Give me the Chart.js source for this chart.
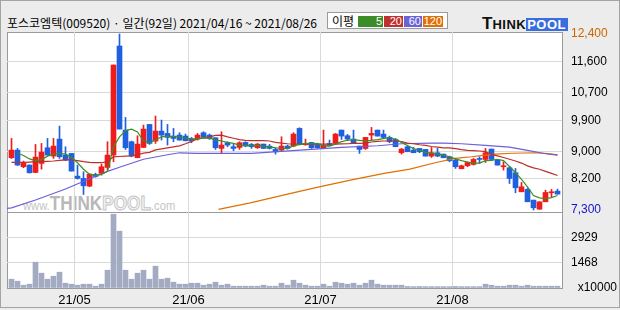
<!DOCTYPE html>
<html>
<head>
<meta charset="utf-8">
<script src="https://cdn.jsdelivr.net/npm/chart.js@4.4.1/dist/chart.umd.min.js"></script>
<style>
body { margin: 0; background: #fff; }
#wrap { position: relative; width: 620px; height: 310px; background: #ececec; overflow: hidden; font-family: "Liberation Sans", sans-serif; }
#outer { position: absolute; left: 0; top: 0; width: 620px; height: 308px; box-sizing: border-box; border: 1px solid #a4a4a4; }
#title { position: absolute; left: 7px; top: 15px; font: 12px/15px "Noto Sans CJK KR", sans-serif; color: #000; white-space: nowrap; }
#legend { position: absolute; left: 327px; top: 12px; width: 121px; height: 17px; box-sizing: border-box; background: #fff; border: 1px solid #9a9a9a; }
#legend span { position: absolute; top: 3px; height: 11px; font: 11px/11px "Liberation Sans", sans-serif; color: #fff; text-align: right; box-sizing: border-box; padding-right: 1px; }
#legend .lbl { left: 4px; top: 1px; height: 14px; font: 12px/14px "Noto Sans CJK KR", sans-serif; color: #000; }
#logo { position: absolute; left: 482px; top: 14px; height: 16px; white-space: nowrap; font-family: "Liberation Sans", sans-serif; font-weight: bold; }
#plotbg { position: absolute; left: 7px; top: 32px; width: 556px; height: 257px; box-sizing: border-box; background: #fff; border: 1px solid #9a9a9a; }
#sep { position: absolute; left: 7px; top: 212px; width: 556px; height: 1px; background: #9a9a9a; }
#mark { position: absolute; left: 23px; top: 192px; white-space: nowrap; color: #c4c4c4; font-family: "Liberation Sans", sans-serif; transform-origin: left top; transform: scaleX(0.86); }
canvas { position: absolute; left: 0; top: 0; }
</style>
</head>
<body>
<div id="wrap">
  <div id="outer"></div>
  <div id="title">포스코엠텍(009520) · 일간(92일) 2021/04/16 ~ 2021/08/26</div>
  <div id="legend">
    <span class="lbl">이평</span>
    <span style="left:30px;width:25px;background:#3c8c28">5</span>
    <span style="left:56px;width:19px;background:#c0302c">20</span>
    <span style="left:76px;width:18px;background:#6b62d8">60</span>
    <span style="left:95px;width:20px;background:#de7008">120</span>
  </div>
  <div id="logo"><span style="font-size:17px;color:#111">T</span><span style="font-size:13px;color:#111;letter-spacing:0.5px">HINK</span><span style="display:inline-block;font-size:13px;line-height:13px;color:#fff;background:#3a6ee0;padding:0 2px 0 1px;letter-spacing:0.5px">POOL</span></div>
  <div id="plotbg"></div>
  <div id="sep"></div>
  <div id="mark"><span style="font-size:13px">www.</span><span style="font-size:20px;font-weight:bold;color:#b8b8b8">THINK</span><span style="font-size:20px;font-weight:bold;color:#f4f4f4;-webkit-text-stroke:1px #c4c4c4">POOL</span><span style="font-size:13px">.com</span></div>
  <canvas id="priceChart" width="620" height="310"></canvas>
  <canvas id="volChart" width="620" height="310"></canvas>
</div>
<script>
// month boundaries on the day axis (between trading days)
const monthTicks = [10.5, 29.5, 51.5, 73.5];
const monthLabels = ['21/05', '21/06', '21/07', '21/08'];

const priceTicks = [12400, 11600, 10700, 9900, 9000, 8200, 7300];
const volTicks = [0, 1468, 2929];

// daily candles, 2021/04/16 ~ 2021/08/26 (92 days)
const opens = [8814, 9036, 8553, 8601, 8388, 8650, 9104, 8862, 9355, 8891,
  8939, 8282, 8214, 7992, 8330, 8359, 8533, 8891, 12052, 9616,
  9278, 8814, 9113, 9780, 9297, 9587, 9519, 9442, 9471, 9442,
  9365, 9355, 9539, 9471, 9394, 9084, 9249, 9133, 9113, 9258,
  9200, 9104, 9210, 9152, 9055, 9036, 9152, 9152, 9664, 9190,
  9258, 9200, 9084, 9229, 9229, 9616, 9452, 9355, 9152, 9084,
  9471, 9616, 9500, 9403, 9345, 8959, 9133, 9036, 9084, 9055,
  8862, 8959, 8920, 8843, 8746, 8495, 8582, 8620, 8794, 8765,
  9065, 8746, 8553, 8524, 8379, 7828, 7896, 7586, 7325, 7538,
  7799, 7847];
const highs = [9374, 9084, 8717, 8610, 9200, 9229, 9374, 9374, 9732, 9133,
  8939, 8601, 8408, 8340, 8370, 8630, 9278, 11501, 12400, 9983,
  9297, 9452, 9761, 9780, 10022, 9906, 9780, 9664, 9539, 9500,
  9403, 9519, 9568, 9500, 9394, 9568, 9278, 9200, 9278, 9278,
  9229, 9229, 9210, 9200, 9104, 9423, 9181, 9539, 9683, 9355,
  9260, 9229, 9616, 9326, 9519, 9616, 9490, 9616, 9152, 9403,
  9693, 9616, 9616, 9442, 9374, 9084, 9162, 9113, 9084, 9055,
  9113, 9084, 8920, 8862, 8794, 8601, 8698, 8794, 8843, 9084,
  9065, 8765, 8698, 8553, 8504, 8098, 7925, 7586, 7538, 7876,
  7896, 7905];
const lows = [8794, 8590, 8524, 8370, 8379, 8485, 8891, 8794, 8794, 8727,
  8427, 8195, 7750, 7973, 8250, 8311, 8456, 8698, 9645, 9055,
  8842, 8814, 9113, 9200, 9229, 9326, 9181, 9278, 9326, 9300,
  9249, 9326, 9394, 9345, 9055, 8939, 9133, 9017, 9055, 9133,
  9084, 9084, 9084, 9065, 8920, 9007, 9065, 9133, 9181, 9175,
  9084, 9084, 9084, 9162, 9200, 9345, 9326, 9229, 8939, 9055,
  9326, 9442, 9374, 9249, 9133, 8920, 8988, 8959, 8959, 8862,
  8823, 8843, 8814, 8698, 8504, 8495, 8553, 8601, 8649, 8678,
  8746, 8601, 8456, 8069, 7799, 7828, 7538, 7300, 7315, 7538,
  7683, 7760];
const closes = [9036, 8601, 8659, 8379, 8833, 8978, 8891, 9152, 8843, 8746,
  8427, 8214, 8002, 8340, 8270, 8553, 8891, 11501, 9645, 9104,
  8862, 9210, 9645, 9229, 9587, 9471, 9403, 9374, 9326, 9307,
  9307, 9471, 9413, 9374, 9104, 9181, 9181, 9084, 9249, 9152,
  9133, 9210, 9084, 9084, 8988, 9152, 9084, 9500, 9200, 9220,
  9104, 9104, 9181, 9162, 9500, 9442, 9355, 9249, 9055, 9403,
  9519, 9442, 9403, 9278, 9133, 9065, 8988, 8959, 8988, 8862,
  8959, 8862, 8814, 8727, 8553, 8582, 8678, 8765, 8765, 8959,
  8765, 8601, 8582, 8214, 7944, 7973, 7538, 7364, 7538, 7808,
  7828, 7760];

// volume, x10000 shares
const volumes = [514, 397, 164, 222, 1508, 865, 514, 690, 923, 280,
  222, 164, 222, 222, 105, 222, 1040, 4313, 3320, 1040,
  514, 865, 1040, 514, 1274, 514, 573, 339, 222, 222,
  280, 280, 164, 222, 339, 164, 222, 105, 105, 105,
  105, 105, 164, 105, 105, 280, 164, 456, 280, 164,
  105, 105, 222, 105, 339, 280, 222, 280, 164, 280,
  456, 222, 164, 164, 164, 164, 90, 80, 90, 80,
  80, 80, 80, 80, 90, 80, 80, 80, 80, 222,
  164, 105, 105, 164, 164, 105, 164, 105, 105, 105,
  105, 105];

// moving averages
const ma5 = [null, 8950, 8880, 8780, 8730, 8760, 8860, 8920, 8940, 8920,
  8820, 8670, 8480, 8340, 8300, 8330, 8420, 9130, 9420, 9600,
  9640, 9560, 9300, 9260, 9330, 9420, 9440, 9430, 9410, 9380,
  9360, 9370, 9390, 9380, 9330, 9300, 9260, 9230, 9180, 9170,
  9160, 9170, 9150, 9130, 9100, 9090, 9080, 9160, 9200, 9230,
  9220, 9230, 9160, 9150, 9210, 9280, 9320, 9340, 9320, 9300,
  9320, 9340, 9370, 9400, 9350, 9260, 9170, 9080, 9030, 8970,
  8950, 8920, 8890, 8840, 8780, 8730, 8690, 8660, 8660, 8730,
  8740, 8770, 8730, 8560, 8380, 8190, 7970, 7720, 7650, 7630,
  7660, 7720];
const ma20 = [8680, 8680, 8680, 8690, 8700, 8700, 8710, 8720, 8740, 8750,
  8750, 8730, 8700, 8680, 8670, 8670, 8700, 8840, 8850, 8860,
  8870, 8900, 8950, 8970, 9040, 9070, 9100, 9130, 9160, 9220,
  9290, 9360, 9390, 9420, 9460, 9470, 9420, 9380, 9340, 9320,
  9310, 9310, 9310, 9300, 9260, 9240, 9220, 9210, 9210, 9210,
  9210, 9210, 9210, 9210, 9210, 9215, 9220, 9230, 9230, 9240,
  9270, 9290, 9300, 9300, 9300, 9280, 9240, 9220, 9190, 9170,
  9140, 9120, 9100, 9100, 9080, 9050, 9030, 9020, 9010, 8990,
  8910, 8870, 8820, 8770, 8720, 8660, 8580, 8520, 8480, 8420,
  8360, 8300];
const ma60Day = [-0.75, 0, 4, 9, 14, 16, 18, 22, 26, 28, 31, 40, 45, 50, 55, 61, 65, 70, 72, 75, 79, 83, 86, 89, 91];
const ma60Val = [7345, 7360, 7590, 7910, 8280, 8420, 8540, 8770, 8900, 8958, 8940, 8940, 9000, 9056, 9114, 9162, 9220, 9240, 9240, 9220, 9170, 9120, 9030, 8930, 8891];
const ma120Day = [34.5, 39.8, 45.3, 50.9, 56.5, 62.1, 66.4, 70.6, 73.9, 76.7, 78.9, 80.6, 83.4, 87.3, 89.5, 91];
const ma120Val = [7316, 7508, 7731, 7954, 8166, 8360, 8485, 8669, 8795, 8843, 8891, 8920, 8945, 8959, 8935, 8895];

const UP = '#f01c1c', DOWN = '#1f5fe0';
const GRID = '#d9d9d9';
const AXIS_FONT = { family: 'Liberation Sans', size: 12 };

const days = opens.map((_, i) => i);
const candleColor = days.map(i => closes[i] >= opens[i] ? UP : DOWN);
const xy = (xs, ys) => xs.map((x, k) => ({ x: x, y: ys[k] }));

const maLine = (data, color) => ({
  type: 'line', data: data, borderColor: color, borderWidth: 1.2,
  pointRadius: 0, tension: 0, spanGaps: false
});

const xScale = (showLabels) => ({
  type: 'linear', min: -0.75, max: 91.75, offset: false,
  afterBuildTicks: s => { s.ticks = monthTicks.map(v => ({ value: v })); },
  ticks: {
    display: showLabels, padding: 5, color: '#000',
    font: { family: 'Liberation Sans', size: 13 },
    callback: (v, i) => monthLabels[i]
  },
  grid: { color: GRID, drawTicks: false, offset: false },
  border: { display: false },
  afterFit: s => { s.height = showLabels ? 22 : 0; }
});

new Chart(document.getElementById('priceChart'), {
  type: 'bar',
  data: {
    datasets: [
      maLine(xy(days, ma5), '#3d8f23'),
      maLine(xy(days, ma20), '#bd2f2a'),
      maLine(xy(ma60Day, ma60Val), '#6a5fdc'),
      maLine(xy(ma120Day, ma120Val), '#e07000'),
      {
        data: days.map(i => ({ x: i, y: [opens[i], closes[i]] })),
        backgroundColor: candleColor, barThickness: 5, minBarLength: 1,
        grouped: false, borderWidth: 0
      },
      {
        data: days.map(i => ({ x: i, y: [lows[i], highs[i]] })),
        backgroundColor: candleColor, barThickness: 1, minBarLength: 1,
        grouped: false, borderWidth: 0
      }
    ]
  },
  options: {
    responsive: false, animation: false, events: [],
    layout: { padding: { left: 7, top: 32, right: 0, bottom: 98 } },
    plugins: { legend: { display: false }, tooltip: { enabled: false } },
    scales: {
      x: xScale(false),
      y: {
        position: 'right', min: 7242, max: 12458,
        afterBuildTicks: s => { s.ticks = priceTicks.map(v => ({ value: v })); },
        ticks: {
          padding: 9, font: AXIS_FONT,
          color: c => c.tick.value === 12400 ? '#cc6600' : (c.tick.value === 7300 ? '#1414c8' : '#000'),
          callback: v => v.toLocaleString('en-US')
        },
        grid: {
          drawTicks: false,
          color: c => (c.tick.value === 12400 || c.tick.value === 7300) ? 'rgba(0,0,0,0)' : GRID
        },
        border: { display: false },
        afterFit: s => { s.width = 58; }
      }
    }
  }
});

new Chart(document.getElementById('volChart'), {
  type: 'bar',
  data: {
    datasets: [{
      data: days.map(i => ({ x: i, y: volumes[i] })),
      backgroundColor: '#a3abc3', barThickness: 5, borderWidth: 0
    }]
  },
  options: {
    responsive: false, animation: false, events: [],
    layout: { padding: { left: 7, top: 212, right: 0, bottom: 0 } },
    plugins: { legend: { display: false }, tooltip: { enabled: false } },
    scales: {
      x: xScale(true),
      y: {
        position: 'right', min: 0, max: 4441,
        afterBuildTicks: s => { s.ticks = volTicks.map(v => ({ value: v })); },
        ticks: {
          padding: 9, font: AXIS_FONT, color: '#000',
          callback: v => v === 0 ? '  x10000' : String(v)
        },
        grid: { drawTicks: false, color: c => c.tick.value === 0 ? 'rgba(0,0,0,0)' : GRID },
        border: { display: false },
        afterFit: s => { s.width = 58; }
      }
    }
  }
});
</script>
</body>
</html>
